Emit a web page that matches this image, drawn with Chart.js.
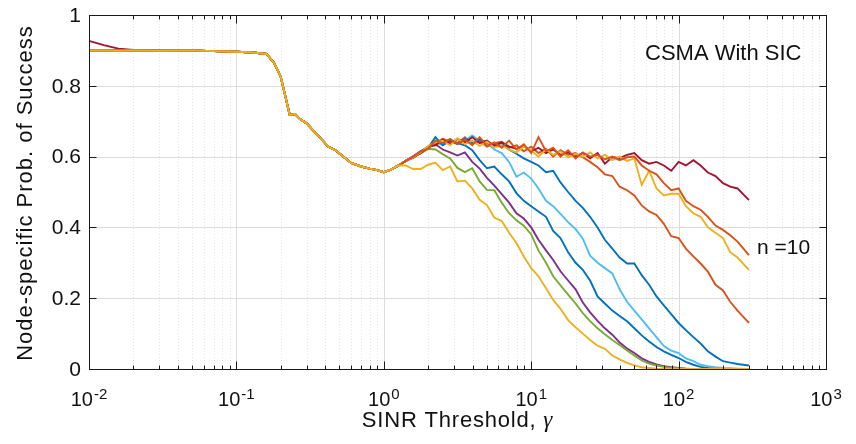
<!DOCTYPE html>
<html>
<head>
<meta charset="utf-8">
<script src="https://cdn.jsdelivr.net/npm/chart.js@4.4.1/dist/chart.umd.min.js"></script>
<style>
  html, body { margin: 0; padding: 0; background: #fff; }
</style>
</head>
<body>
<canvas id="chart" width="856" height="444"></canvas>
<script>
// SINR threshold values (x, log axis)
const gammaHead = [0.01, 0.0126, 0.0158, 0.02, 0.03, 0.05, 0.07, 0.1, 0.13, 0.16, 0.18, 0.2, 0.215,
  0.23, 0.25, 0.27, 0.3, 0.33, 0.38, 0.42, 0.47, 0.53, 0.6, 0.7, 0.8, 0.9, 1.0, 1.12, 1.26];
const gammaTail = [1.41, 1.58, 1.78, 2.0, 2.24, 2.51, 2.82, 3.16, 3.55, 3.98, 4.47, 5.01, 5.62, 6.31,
  7.08, 7.94, 8.91, 10, 11.2, 12.6, 14.1, 15.8, 17.8, 20, 22.4, 25.1, 28.2, 31.6, 35.5, 39.8, 44.7,
  50.1, 56.2, 63.1, 70.8, 79.4, 89.1, 100, 112, 126, 141, 158, 178, 200, 224, 251, 300];
const gamma = gammaHead.concat(gammaTail);

// low-threshold part is the same for every curve
const headCommon = [0.900, 0.900, 0.899, 0.900, 0.899, 0.900, 0.898, 0.896, 0.894, 0.890, 0.865, 0.825,
  0.770, 0.718, 0.720, 0.706, 0.694, 0.675, 0.648, 0.628, 0.618, 0.600, 0.582, 0.572, 0.566, 0.562,
  0.556, 0.563, 0.575];
const headRed = [0.927, 0.915, 0.905, 0.901, 0.899, 0.900, 0.898, 0.896, 0.894, 0.890, 0.865, 0.825,
  0.770, 0.718, 0.720, 0.706, 0.694, 0.675, 0.648, 0.628, 0.618, 0.600, 0.582, 0.572, 0.566, 0.562,
  0.556, 0.563, 0.575];

const tailYellowLow = [0.575, 0.565, 0.565, 0.577, 0.583, 0.562, 0.572, 0.53, 0.532, 0.51, 0.478, 0.463,
  0.428, 0.418, 0.385, 0.356, 0.318, 0.285, 0.262, 0.228, 0.195, 0.17, 0.138, 0.118, 0.1, 0.082, 0.066,
  0.057, 0.038, 0.027, 0.017, 0.01, 0.005, 0.003, 0.001, 0, 0, 0, 0, 0, 0, 0, 0, 0, 0, 0, 0];
const tailGreen = [0.588, 0.598, 0.61, 0.622, 0.62, 0.607, 0.595, 0.568, 0.556, 0.567, 0.53, 0.506, 0.505,
  0.47, 0.44, 0.42, 0.405, 0.38, 0.335, 0.30, 0.262, 0.236, 0.21, 0.185, 0.158, 0.135, 0.115, 0.098,
  0.082, 0.068, 0.052, 0.038, 0.024, 0.015, 0.01, 0.006, 0.004, 0.002, 0.001, 0, 0, 0, 0, 0, 0, 0, 0];
const tailPurple = [0.588, 0.6, 0.615, 0.628, 0.635, 0.62, 0.612, 0.603, 0.612, 0.585, 0.566, 0.54, 0.518,
  0.494, 0.47, 0.44, 0.425, 0.40, 0.365, 0.335, 0.308, 0.276, 0.25, 0.225, 0.188, 0.16, 0.136, 0.115,
  0.097, 0.075, 0.058, 0.045, 0.03, 0.02, 0.013, 0.008, 0.005, 0.003, 0.001, 0, 0, 0, 0, 0, 0, 0, 0];
const tailBlueLow = [0.588, 0.6, 0.613, 0.627, 0.64, 0.635, 0.645, 0.638, 0.632, 0.618, 0.59, 0.567, 0.572,
  0.55, 0.53, 0.497, 0.475, 0.46, 0.445, 0.43, 0.39, 0.37, 0.33, 0.30, 0.28, 0.25, 0.205, 0.185, 0.165,
  0.15, 0.135, 0.115, 0.095, 0.078, 0.062, 0.05, 0.04, 0.031, 0.02, 0.012, 0.006, 0.003, 0.002, 0, 0, 0, 0];
const tailLightBlue = [0.588, 0.6, 0.61, 0.622, 0.64, 0.633, 0.648, 0.64, 0.645, 0.66, 0.645, 0.638, 0.62,
  0.61, 0.585, 0.543, 0.555, 0.538, 0.51, 0.475, 0.46, 0.438, 0.415, 0.395, 0.368, 0.32, 0.30, 0.285,
  0.27, 0.225, 0.19, 0.165, 0.14, 0.115, 0.09, 0.065, 0.052, 0.045, 0.03, 0.022, 0.012, 0.008, 0.005,
  0.003, 0.002, 0.001, 0];
const tailBlueHigh = [0.588, 0.6, 0.615, 0.625, 0.655, 0.632, 0.645, 0.635, 0.65, 0.64, 0.648, 0.64, 0.632,
  0.638, 0.62, 0.608, 0.595, 0.585, 0.575, 0.556, 0.56, 0.527, 0.5, 0.475, 0.455, 0.43, 0.40, 0.365,
  0.34, 0.315, 0.298, 0.298, 0.265, 0.238, 0.205, 0.18, 0.155, 0.13, 0.11, 0.09, 0.072, 0.05, 0.035,
  0.022, 0.018, 0.014, 0.01];
const tailOrangeLow = [0.588, 0.6, 0.61, 0.625, 0.638, 0.65, 0.642, 0.638, 0.655, 0.636, 0.645, 0.628, 0.638,
  0.642, 0.625, 0.632, 0.615, 0.628, 0.61, 0.622, 0.6, 0.618, 0.605, 0.61, 0.598, 0.585, 0.57, 0.55,
  0.545, 0.515, 0.505, 0.49, 0.462, 0.445, 0.435, 0.41, 0.375, 0.37, 0.34, 0.318, 0.298, 0.275, 0.238,
  0.222, 0.19, 0.165, 0.13];
const tailOrangeHigh = [0.588, 0.6, 0.615, 0.622, 0.645, 0.638, 0.65, 0.635, 0.648, 0.632, 0.655, 0.63, 0.64,
  0.625, 0.645, 0.62, 0.635, 0.61, 0.655, 0.615, 0.625, 0.6, 0.618, 0.595, 0.612, 0.6, 0.605, 0.592,
  0.6, 0.59, 0.598, 0.60, 0.575, 0.56, 0.55, 0.525, 0.505, 0.51, 0.475, 0.46, 0.45, 0.43, 0.405, 0.393,
  0.378, 0.36, 0.322];
const tailYellowHigh = [0.588, 0.598, 0.612, 0.63, 0.64, 0.645, 0.632, 0.652, 0.635, 0.645, 0.63, 0.642, 0.625,
  0.632, 0.62, 0.612, 0.628, 0.618, 0.6, 0.62, 0.605, 0.615, 0.598, 0.608, 0.6, 0.612, 0.595, 0.605,
  0.59, 0.6, 0.588, 0.595, 0.52, 0.56, 0.51, 0.49, 0.495, 0.495, 0.46, 0.44, 0.43, 0.40, 0.385, 0.37,
  0.33, 0.315, 0.28];
const tailRed = [0.588, 0.596, 0.61, 0.628, 0.632, 0.648, 0.636, 0.65, 0.64, 0.655, 0.638, 0.645, 0.63,
  0.64, 0.628, 0.622, 0.63, 0.615, 0.625, 0.61, 0.62, 0.605, 0.612, 0.6, 0.61, 0.595, 0.61, 0.58,
  0.598, 0.596, 0.605, 0.61, 0.59, 0.58, 0.585, 0.575, 0.56, 0.585, 0.575, 0.59, 0.575, 0.555, 0.545,
  0.525, 0.515, 0.51, 0.477];

// axis ticks
const xTicks = [0.01, 0.1, 1, 10, 100, 1000];
const xTickExp = ['-2', '-1', '0', '1', '2', '3'];
const yTicks = [0, 0.2, 0.4, 0.6, 0.8, 1];
const yTickLabels = ['0', '0.2', '0.4', '0.6', '0.8', '1'];

const minorTicks = [];
xTicks.slice(0, -1).forEach(d => {
  for (let m = 2; m <= 9; m++) minorTicks.push(d * m);
});

// first dataset ends up on top
const series = [
  { vals: headCommon.concat(tailYellowLow), color: '#EDB120' },
  { vals: headCommon.concat(tailOrangeHigh), color: '#D95319' },
  { vals: headCommon.concat(tailYellowHigh), color: '#EDB120' },
  { vals: headRed.concat(tailRed), color: '#A2142F' },
  { vals: headCommon.concat(tailBlueHigh), color: '#0072BD' },
  { vals: headCommon.concat(tailOrangeLow), color: '#D95319' },
  { vals: headCommon.concat(tailLightBlue), color: '#4DBEEE' },
  { vals: headCommon.concat(tailGreen), color: '#77AC30' },
  { vals: headCommon.concat(tailPurple), color: '#7E2F8E' },
  { vals: headCommon.concat(tailBlueLow), color: '#0072BD' }
];

const textColor = '#111';
const sans = '"Liberation Sans", Arial, Helvetica, sans-serif';

const axesPlugin = {
  id: 'axesPlugin',
  beforeDatasetsDraw(chart) {
    const { ctx, chartArea: a } = chart;
    const x = chart.scales.x, y = chart.scales.y;
    ctx.save();
    ctx.lineWidth = 1;
    ctx.strokeStyle = '#e6e6e6';
    ctx.setLineDash([1, 2]);
    minorTicks.forEach(v => {
      const px = Math.round(x.getPixelForValue(v)) + 0.5;
      ctx.beginPath(); ctx.moveTo(px, a.top); ctx.lineTo(px, a.bottom); ctx.stroke();
    });
    ctx.setLineDash([]);
    ctx.strokeStyle = '#dcdcdc';
    xTicks.forEach(v => {
      const px = Math.round(x.getPixelForValue(v)) + 0.5;
      ctx.beginPath(); ctx.moveTo(px, a.top); ctx.lineTo(px, a.bottom); ctx.stroke();
    });
    yTicks.forEach(v => {
      const py = Math.round(y.getPixelForValue(v)) + 0.5;
      ctx.beginPath(); ctx.moveTo(a.left, py); ctx.lineTo(a.right, py); ctx.stroke();
    });
    ctx.restore();
  },
  afterDatasetsDraw(chart) {
    const { ctx, chartArea: a } = chart;
    const x = chart.scales.x, y = chart.scales.y;
    ctx.save();
    ctx.strokeStyle = '#1a1a1a';
    ctx.lineWidth = 1;
    const L = Math.round(a.left) + 0.5, R = Math.round(a.right) + 0.5;
    const T = Math.round(a.top) + 0.5, B = Math.round(a.bottom) + 0.5;
    ctx.strokeRect(L, T, R - L, B - T);

    // tick marks, inside, on all four sides
    const tick = (x1, y1, x2, y2) => { ctx.beginPath(); ctx.moveTo(x1, y1); ctx.lineTo(x2, y2); ctx.stroke(); };
    xTicks.forEach(v => {
      const px = Math.round(x.getPixelForValue(v)) + 0.5;
      tick(px, B, px, B - 8); tick(px, T, px, T + 8);
    });
    minorTicks.forEach(v => {
      const px = Math.round(x.getPixelForValue(v)) + 0.5;
      tick(px, B, px, B - 4); tick(px, T, px, T + 4);
    });
    yTicks.forEach(v => {
      const py = Math.round(y.getPixelForValue(v)) + 0.5;
      tick(L, py, L + 7, py); tick(R, py, R - 7, py);
    });

    ctx.fillStyle = textColor;
    // y tick labels
    ctx.font = '21px ' + sans;
    ctx.textAlign = 'right';
    ctx.textBaseline = 'middle';
    yTicks.forEach((v, i) => ctx.fillText(yTickLabels[i], a.left - 8, y.getPixelForValue(v) + 1));

    // x tick labels 10^k
    ctx.textAlign = 'left';
    ctx.textBaseline = 'alphabetic';
    const base = '20px ' + sans, sup = '15px ' + sans;
    xTicks.forEach((v, i) => {
      const px = x.getPixelForValue(v);
      ctx.font = base; const w1 = ctx.measureText('10').width;
      ctx.font = sup; const w2 = ctx.measureText(xTickExp[i]).width;
      const left = px - (w1 + w2 + 1) / 2;
      ctx.font = base; ctx.fillText('10', left, 406);
      ctx.font = sup; ctx.fillText(xTickExp[i], left + w1 + 1, 399);
    });

    // x axis title
    ctx.font = '22px ' + sans;
    ctx.letterSpacing = '0.8px';
    const t1 = 'SINR Threshold, ';
    const wt1 = ctx.measureText(t1).width;
    ctx.font = 'italic 23px "Liberation Serif", "Times New Roman", serif';
    const wg = ctx.measureText('\u03b3').width;
    const sx = (a.left + a.right) / 2 - (wt1 + wg) / 2;
    ctx.font = '22px ' + sans;
    ctx.fillText(t1, sx, 427);
    ctx.font = 'italic 23px "Liberation Serif", "Times New Roman", serif';
    ctx.fillText('\u03b3', sx + wt1, 427);

    // y axis title
    ctx.save();
    ctx.font = '22px ' + sans;
    ctx.letterSpacing = '1px';
    ctx.textAlign = 'center';
    ctx.translate(32, (a.top + a.bottom) / 2 + 1);
    ctx.rotate(-Math.PI / 2);
    ctx.fillText('Node-specific Prob. of Success', 0, 0);
    ctx.restore();

    // annotations
    ctx.letterSpacing = '0px';
    ctx.font = '22px ' + sans;
    ctx.textAlign = 'left';
    ctx.fillText('CSMA With SIC', 645, 60);
    ctx.font = '21px ' + sans;
    ctx.fillText('n =10', 757, 254);
    ctx.restore();
  }
};

new Chart(document.getElementById('chart').getContext('2d'), {
  type: 'line',
  data: {
    datasets: series.map((s, i) => ({
      label: 'curve ' + (i + 1),
      data: gamma.map((g, k) => ({ x: g, y: s.vals[k] })),
      borderColor: s.color,
      backgroundColor: s.color,
      borderWidth: 1.9,
      pointRadius: 0,
      tension: 0,
      fill: false,
      clip: 3
    }))
  },
  options: {
    responsive: false,
    animation: false,
    devicePixelRatio: 1,
    layout: { padding: { left: 0, right: 30, top: 15, bottom: 0 } },
    plugins: { legend: { display: false }, tooltip: { enabled: false } },
    scales: {
      x: {
        type: 'logarithmic', min: 0.01, max: 1000,
        grid: { display: false }, border: { display: false }, ticks: { display: false },
        afterFit(s) { s.height = 75; }
      },
      y: {
        min: 0, max: 1,
        grid: { display: false }, border: { display: false }, ticks: { display: false },
        afterFit(s) { s.width = 89; }
      }
    }
  },
  plugins: [axesPlugin]
});
</script>
</body>
</html>
